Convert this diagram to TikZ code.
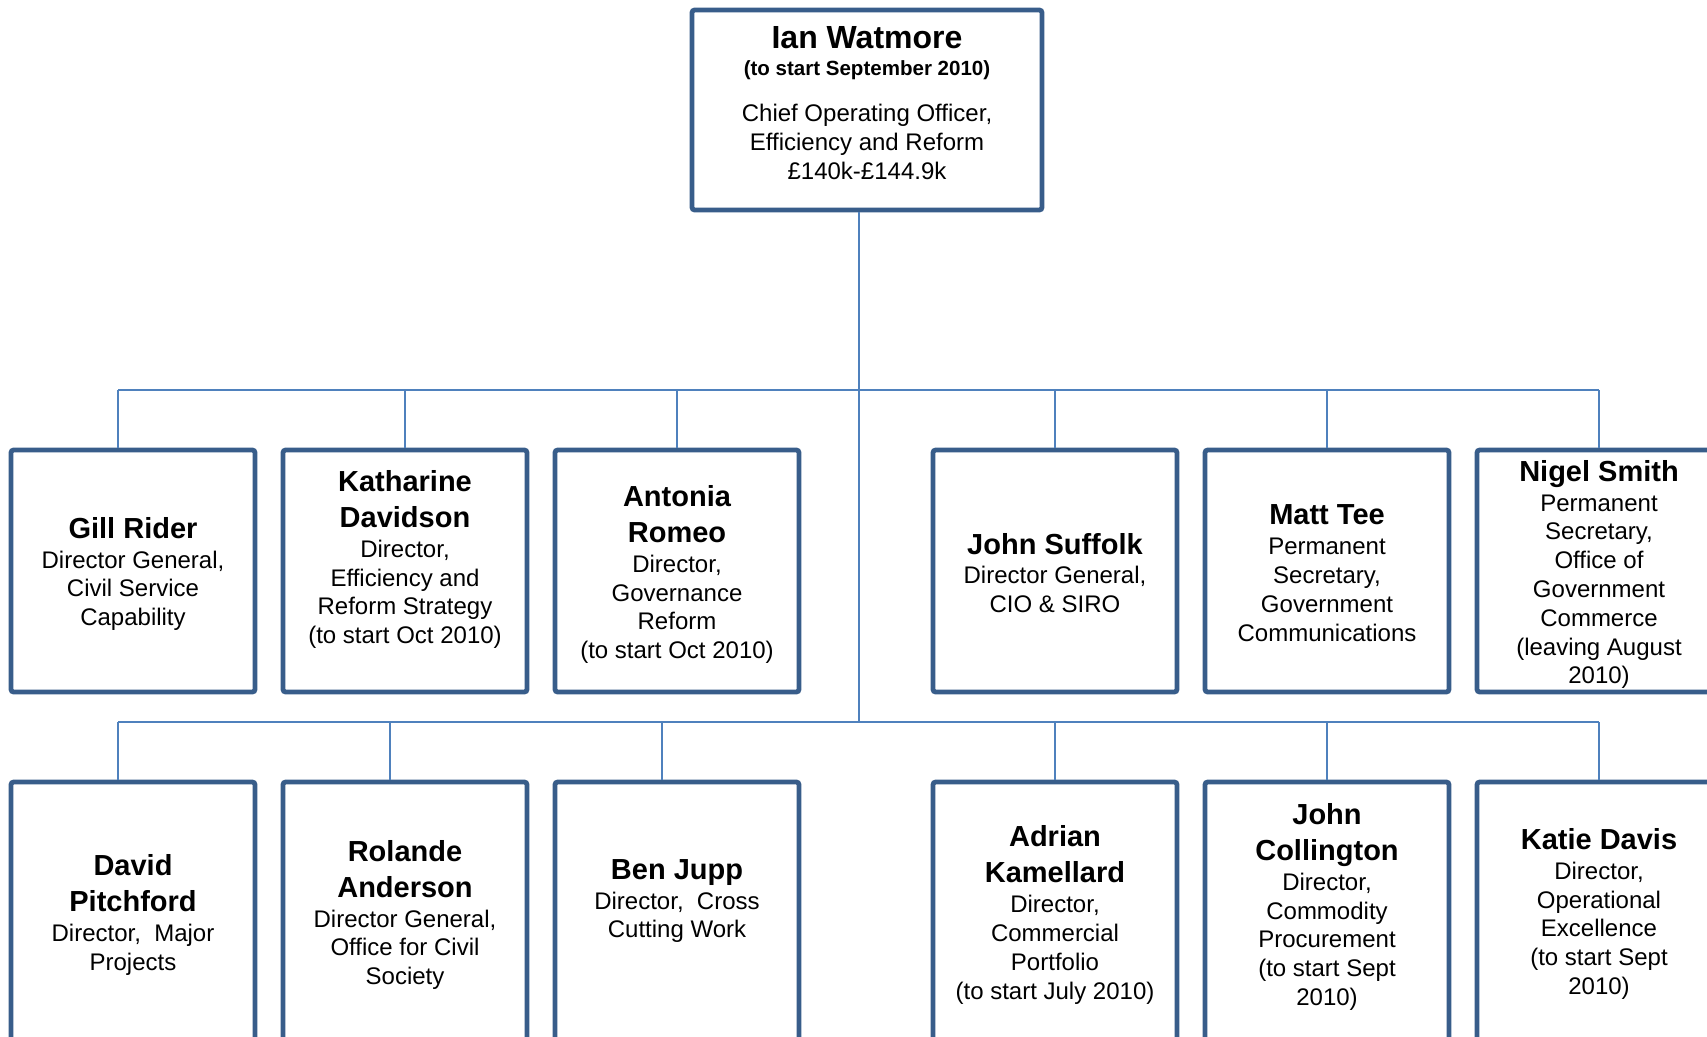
\documentclass[tikz,border=0pt]{standalone}
\usepackage{fontspec}
\setmainfont{Liberation Sans}
\definecolor{boxblue}{RGB}{56,93,138}
\definecolor{linkblue}{RGB}{79,129,189}
% bold name line
\newcommand\pname[1]{{\fontsize{21.75}{27}\selectfont\bfseries #1}}
\begin{document}
\begin{tikzpicture}[x=0.75pt,y=-0.75pt,
  box/.style={draw=boxblue, line width=3.6pt, rounded corners=2pt, fill=white,
    minimum width=183pt, minimum height=181.5pt, inner sep=0pt},
  lowbox/.style={box, minimum height=198pt},
  conn/.style={draw=linkblue, line width=1.4pt},
  txt/.style={align=center, inner sep=0pt, font=\fontsize{18}{21.6}\selectfont},
]
\useasboundingbox (0,0) rectangle (1707,1036);
\clip (0,0) rectangle (1707,1036);

% junction points of the connector tree
\coordinate (hub1) at (859,390);
\coordinate (hub2) at (859,722);
\coordinate (g1) at (118,390);
\coordinate (g2) at (118,722);
\coordinate (a2) at (390,722);
\coordinate (j2) at (662,722);

% top box
\node[box, minimum width=262.5pt, minimum height=150pt] (ceo) at (867,110) {};

% first row of boxes
\node[box] (gill) at (133,571) {};
\node[box] (katharine) at (405,571) {};
\node[box] (antonia) at (677,571) {};
\node[box] (suffolk) at (1055,571) {};
\node[box] (tee) at (1327,571) {};
\node[box] (smith) at (1599,571) {};

% second row of boxes
\node[lowbox] (pitchford) at (133,914) {};
\node[lowbox] (anderson) at (405,914) {};
\node[lowbox] (jupp) at (677,914) {};
\node[lowbox] (kamellard) at (1055,914) {};
\node[lowbox] (collington) at (1327,914) {};
\node[lowbox] (davis) at (1599,914) {};

% connectors
\draw[conn] (ceo.south -| hub1) -- (hub2);
\draw[conn] (g1) -- (smith.north |- hub1);
\draw[conn] (g2) -- (davis.north |- hub2);
\draw[conn] (g1) -- (gill.north -| g1);
\foreach \n in {katharine,antonia,suffolk,tee,smith}
  \draw[conn] (\n.north |- hub1) -- (\n.north);
\draw[conn] (g2) -- (pitchford.north -| g2);
\draw[conn] (a2) -- (anderson.north -| a2);
\draw[conn] (j2) -- (jupp.north -| j2);
\foreach \n in {kamellard,collington,davis}
  \draw[conn] (\n.north |- hub2) -- (\n.north);

% texts
\node[txt] (ceotext) at (867,103) {{\fontsize{24}{28}\selectfont\bfseries Ian Watmore}\\[-1.6pt]
  {\fontsize{15.4}{18}\selectfont\bfseries (to start September 2010)}\\[13.5pt]
  Chief Operating Officer,\\ Efficiency and Reform\\ £140k-£144.9k};

\node[txt] (gilltext) at (133,574) {\pname{Gill Rider}\\[0.8pt] Director General,\\ Civil Service\\ Capability};
\node[txt] (katharinetext) at (405,559.5) {\pname{Katharine}\\[5.4pt]\pname{Davidson}\\[0.8pt] Director,\\ Efficiency and\\ Reform Strategy\\ (to start Oct 2010)};
\node[txt] (antoniatext) at (677,574.5) {\pname{Antonia}\\[5.4pt]\pname{Romeo}\\[0.8pt] Director,\\ Governance\\ Reform\\ (to start Oct 2010)};
\node[txt] (suffolktext) at (1055,573) {\pname{John Suffolk}\\[0.8pt] Director General,\\ CIO \& SIRO};
\node[txt] (teetext) at (1327,573) {\pname{Matt Tee}\\[0.8pt] Permanent\\ Secretary,\\ Government\\ Communications};
\node[txt] (smithtext) at (1599,574.5) {\pname{Nigel Smith}\\[0.8pt] Permanent\\ Secretary,\\ Office of\\ Government\\ Commerce\\ (leaving August\\ 2010)};

\node[txt] (pitchfordtext) at (133,915) {\pname{David}\\[5.4pt]\pname{Pitchford}\\[0.8pt] Director,~ Major\\ Projects};
\node[txt] (andersontext) at (405,915) {\pname{Rolande}\\[5.4pt]\pname{Anderson}\\[0.8pt] Director General,\\ Office for Civil\\ Society};
\node[txt] (jupptext) at (677,901) {\pname{Ben Jupp}\\[0.8pt] Director,~ Cross\\ Cutting Work};
\node[txt] (kamellardtext) at (1055,915) {\pname{Adrian}\\[5.4pt]\pname{Kamellard}\\[0.8pt] Director,\\ Commercial\\ Portfolio\\ (to start July 2010)};
\node[txt] (collingtontext) at (1327,907) {\pname{John}\\[5.4pt]\pname{Collington}\\[0.8pt] Director,\\ Commodity\\ Procurement\\ (to start Sept\\ 2010)};
\node[txt] (davistext) at (1599,914) {\pname{Katie Davis}\\[0.8pt] Director,\\ Operational\\ Excellence\\ (to start Sept\\ 2010)};
\end{tikzpicture}
\end{document}
